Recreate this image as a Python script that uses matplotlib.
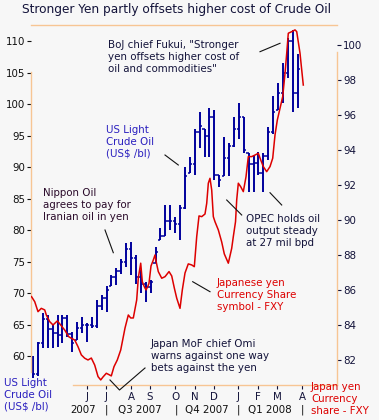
import matplotlib.pyplot as plt
from matplotlib.lines import Line2D

# weekly US Light Crude Oil bars (week 0 = mid March 2007)
oil_open = [59.8, 57.2, 62.0, 65.8, 64.3, 63.6, 63.4, 66.0, 63.5, 62.5,
            64.5, 65.0, 64.9, 64.8, 68.0, 69.2, 71.1, 72.5, 73.5, 75.0,
            77.0, 75.5, 72.5, 71.5, 71.0, 74.7, 78.4, 79.0, 81.5, 81.5,
            81.0, 83.5, 89.0, 90.5, 95.5, 96.1, 95.0, 98.0, 88.7, 88.5,
            91.5, 93.3, 96.0, 98.0, 92.2, 90.5, 90.7, 89.0, 91.8, 95.5,
            99.0, 101.8, 105.0, 110.0, 101.8]
oil_high = [60.0, 62.2, 66.8, 66.5, 65.0, 66.5, 66.5, 66.5, 63.8, 65.4,
            66.2, 65.2, 66.2, 68.9, 69.7, 71.1, 72.8, 73.9, 75.4, 77.9,
            78.1, 76.0, 73.7, 71.8, 72.1, 77.3, 80.3, 84.0, 84.0, 82.1,
            84.0, 90.0, 91.6, 96.1, 98.8, 96.1, 99.3, 99.0, 88.7, 94.8,
            93.8, 98.0, 100.1, 98.0, 92.2, 91.9, 92.4, 92.2, 96.4, 101.3,
            103.3, 106.5, 110.4, 111.7, 108.0]
oil_low = [56.5, 56.8, 61.3, 61.3, 61.3, 61.5, 62.0, 63.0, 60.6, 62.5,
           63.7, 62.2, 64.4, 64.4, 67.3, 67.0, 71.1, 71.3, 73.0, 74.2,
           72.9, 71.5, 70.0, 68.6, 70.0, 74.7, 78.4, 79.0, 80.0, 79.5,
           78.4, 83.4, 89.0, 88.7, 93.0, 91.6, 91.6, 87.9, 86.9, 88.5,
           88.5, 93.2, 94.5, 92.2, 86.1, 86.1, 88.7, 86.1, 91.1, 95.3,
           99.0, 100.1, 104.1, 98.8, 99.3]
oil_close = [57.2, 62.0, 65.8, 64.3, 63.6, 63.4, 66.0, 63.5, 62.0, 64.5,
             65.0, 64.9, 64.8, 68.0, 69.2, 70.5, 72.5, 73.5, 75.0, 77.0,
             75.5, 72.5, 71.5, 71.0, 71.8, 76.5, 79.0, 81.5, 81.5, 81.0,
             83.5, 88.5, 90.5, 95.5, 96.5, 95.0, 98.0, 88.7, 88.0, 91.5,
             93.3, 96.0, 98.0, 92.7, 90.5, 90.7, 89.0, 91.8, 95.5, 98.8,
             101.8, 105.0, 110.0, 101.8, 105.5]
oil_week = list(range(len(oil_high)))

# Japanese yen currency share FXY
fxy_week = [-0.31, 0.35, 1.02, 1.69, 2.39, 2.71, 3.41, 4.08, 4.96, 5.65,
            6.47, 7.29, 7.82, 8.51, 9.18, 9.86, 10.55, 11.22, 11.90, 12.59,
            13.27, 13.82, 14.29, 14.96, 15.65, 15.98, 16.53, 17.20, 17.90, 18.78,
            19.45, 19.94, 20.47, 21.16, 21.49, 21.98, 22.31, 22.71, 23.06, 23.41,
            23.67, 24.08, 24.55, 24.90, 25.20, 25.57, 26.27, 26.94, 27.76, 28.31,
            28.84, 29.33, 30.00, 30.47, 31.02, 31.69, 32.39, 32.92, 33.41, 33.88,
            34.43, 35.10, 35.45, 35.78, 36.12, 36.47, 36.80, 37.14, 37.82, 38.51,
            39.04, 39.86, 40.55, 40.88, 41.33, 41.57, 41.90, 42.39, 42.92, 43.47,
            43.94, 44.63, 45.31, 45.98, 46.47, 47.00, 47.69, 48.37, 48.92, 49.39,
            49.86, 50.41, 50.96, 51.43, 51.78, 52.10, 52.80, 53.47, 53.82, 54.49,
            54.84, 55.16]
fxy_val = [85.62, 85.33, 84.76, 84.95, 84.86, 84.57, 84.19, 84.00, 84.23, 84.00,
           83.71, 83.33, 83.24, 83.14, 82.76, 82.29, 82.10, 82.00, 82.11, 81.71,
           81.05, 80.86, 81.03, 81.24, 81.14, 81.09, 81.62, 82.00, 82.57, 83.83,
           84.57, 84.40, 84.40, 85.43, 86.69, 87.53, 86.47, 86.19, 86.00, 86.19,
           86.38, 87.37, 87.71, 88.00, 87.53, 87.05, 86.67, 86.76, 87.05, 86.80,
           86.11, 85.53, 84.95, 86.00, 86.97, 87.49, 87.43, 87.33, 89.05, 90.23,
           90.19, 90.34, 90.95, 92.10, 92.38, 91.71, 90.19, 89.90, 89.43, 88.74,
           88.06, 87.53, 88.38, 89.05, 89.90, 91.14, 92.10, 91.90, 91.62, 92.47,
           93.62, 93.62, 93.71, 93.81, 93.43, 93.05, 92.76, 93.05, 93.53, 94.86,
           95.71, 96.38, 97.05, 98.38, 99.53, 100.67, 100.76, 100.86, 100.76, 99.53,
           98.57, 97.71]

month_pos = [11.02, 14.90, 20.0, 23.88, 28.98, 33.06, 36.94, 41.84, 45.92, 49.80, 54.90]
month_labels = ['J', 'J', 'A', 'S', 'O', 'N', 'D', 'J', 'F', 'M', 'A']
quarter_labels = ['2007', 'Q3 2007', 'Q4 2007', 'Q1 2008']
quarter_pos = [10.2, 21.84, 35.5, 48.37]
quarter_breaks = [14.90, 29.2, 41.84, 54.90]

W, H = 379, 420
BG = '#f7f7f7'
ORANGE = '#f7c594'
TXT = '#13133a'
BLUE = '#00009c'
RED = '#dd0000'
LBLUE = '#2a1fbf'
FS = 7.4

plt.rcParams['font.family'] = 'DejaVu Sans'


def fp(x, y):
    return x / W, 1 - y / H


fig = plt.figure(figsize=(W / 100, H / 100), dpi=100, facecolor=BG)
ax = fig.add_axes([31 / W, 35 / H, 306 / W, 360 / H], facecolor=BG)
ax2 = ax.twinx()

# OHLC bars
ax.vlines(oil_week, oil_low, oil_high, color=BLUE, lw=1.4)
ax.hlines(oil_open, [w - 0.45 for w in oil_week], oil_week, color=BLUE, lw=1.1)
ax.hlines(oil_close, oil_week, [w + 0.45 for w in oil_week], color=BLUE, lw=1.1)

ax2.plot(fxy_week, fxy_val, color=RED, lw=1.1)

ax.set_xlim(-0.41, 62.04)
ax.set_ylim(55.4, 112.54)
ax2.set_ylim(80.57, 101.14)

ax.set_yticks(range(60, 111, 5))
ax.set_xticks(month_pos)
ax.set_xticklabels(month_labels)
ax2.set_yticks(range(82, 101, 2))

ax.tick_params(axis='y', length=3, width=0.8, pad=1, labelsize=FS, colors='#111111')
ax.tick_params(axis='x', length=3, width=0.8, pad=2, labelsize=FS, colors=TXT)
ax2.tick_params(axis='y', length=3, width=0.8, pad=1.5, labelsize=FS, colors=TXT)

for a in (ax, ax2):
    for s in a.spines.values():
        s.set_color(ORANGE)
        s.set_linewidth(1.0)
ax.spines['right'].set_visible(False)
ax2.spines['left'].set_visible(False)
ax2.spines['bottom'].set_visible(False)
ax2.spines['top'].set_visible(False)
ax.spines['left'].set_bounds(57.46, 105.08)
ax.spines['bottom'].set_bounds(8.16, 62.04)
ax2.spines['right'].set_bounds(80.57, 99.6)

# title
fig.text(*fp(177, 10), 'Stronger Yen partly offsets higher cost of Crude Oil',
         ha='center', va='center', fontsize=8.7, color=TXT)

# annotations
notes = [
    (108, 57, 'BoJ chief Fukui, "Stronger\nyen offsets higher cost of\noil and commodities"', TXT),
    (106, 142, 'US Light\nCrude Oil\n(US$ /bl)', LBLUE),
    (43, 205, 'Nippon Oil\nagrees to pay for\nIranian oil in yen', '#2a0a2a'),
    (246, 231, 'OPEC holds oil\noutput steady\nat 27 mil bpd', TXT),
    (217, 295, 'Japanese yen\nCurrency Share\nsymbol - FXY', RED),
    (151, 356, 'Japan MoF chief Omi\nwarns against one way\nbets against the yen', TXT),
    (4, 395, 'US Light\nCrude Oil\n(US$ /bl)', LBLUE),
    (311, 399, 'Japan yen\nCurrency\nshare - FXY', RED),
]
for x, y, s, c in notes:
    fig.text(*fp(x, y), s, ha='left', va='center', fontsize=FS, color=c,
             linespacing=1.2)

leaders = [
    [(260, 51.7), (280, 43.3)],
    [(165, 155), (178.3, 165)],
    [(105, 230), (113.3, 252.7)],
    [(226.7, 200), (241.7, 215)],
    [(270, 192.7), (281.7, 205)],
    [(192.7, 281.7), (210, 291.7)],
    [(110, 380), (119.5, 390), (145, 368)],
]
for pts in leaders:
    xs = [p[0] / W for p in pts]
    ys = [1 - p[1] / H for p in pts]
    fig.add_artist(Line2D(xs, ys, transform=fig.transFigure, color='#111111', lw=0.8))

# quarter row
xfig = ax.get_xaxis_transform()
for q, p in zip(quarter_labels, quarter_pos):
    ax.text(p, -25 / 360, q, transform=xfig, ha='center', va='center',
            fontsize=FS, color='#111111', clip_on=False)
for p in quarter_breaks:
    ax.text(p, -25 / 360, '|', transform=xfig, ha='center', va='center',
            fontsize=FS, color='#111111', clip_on=False)

fig.savefig('out.png', dpi=100, facecolor=BG)
